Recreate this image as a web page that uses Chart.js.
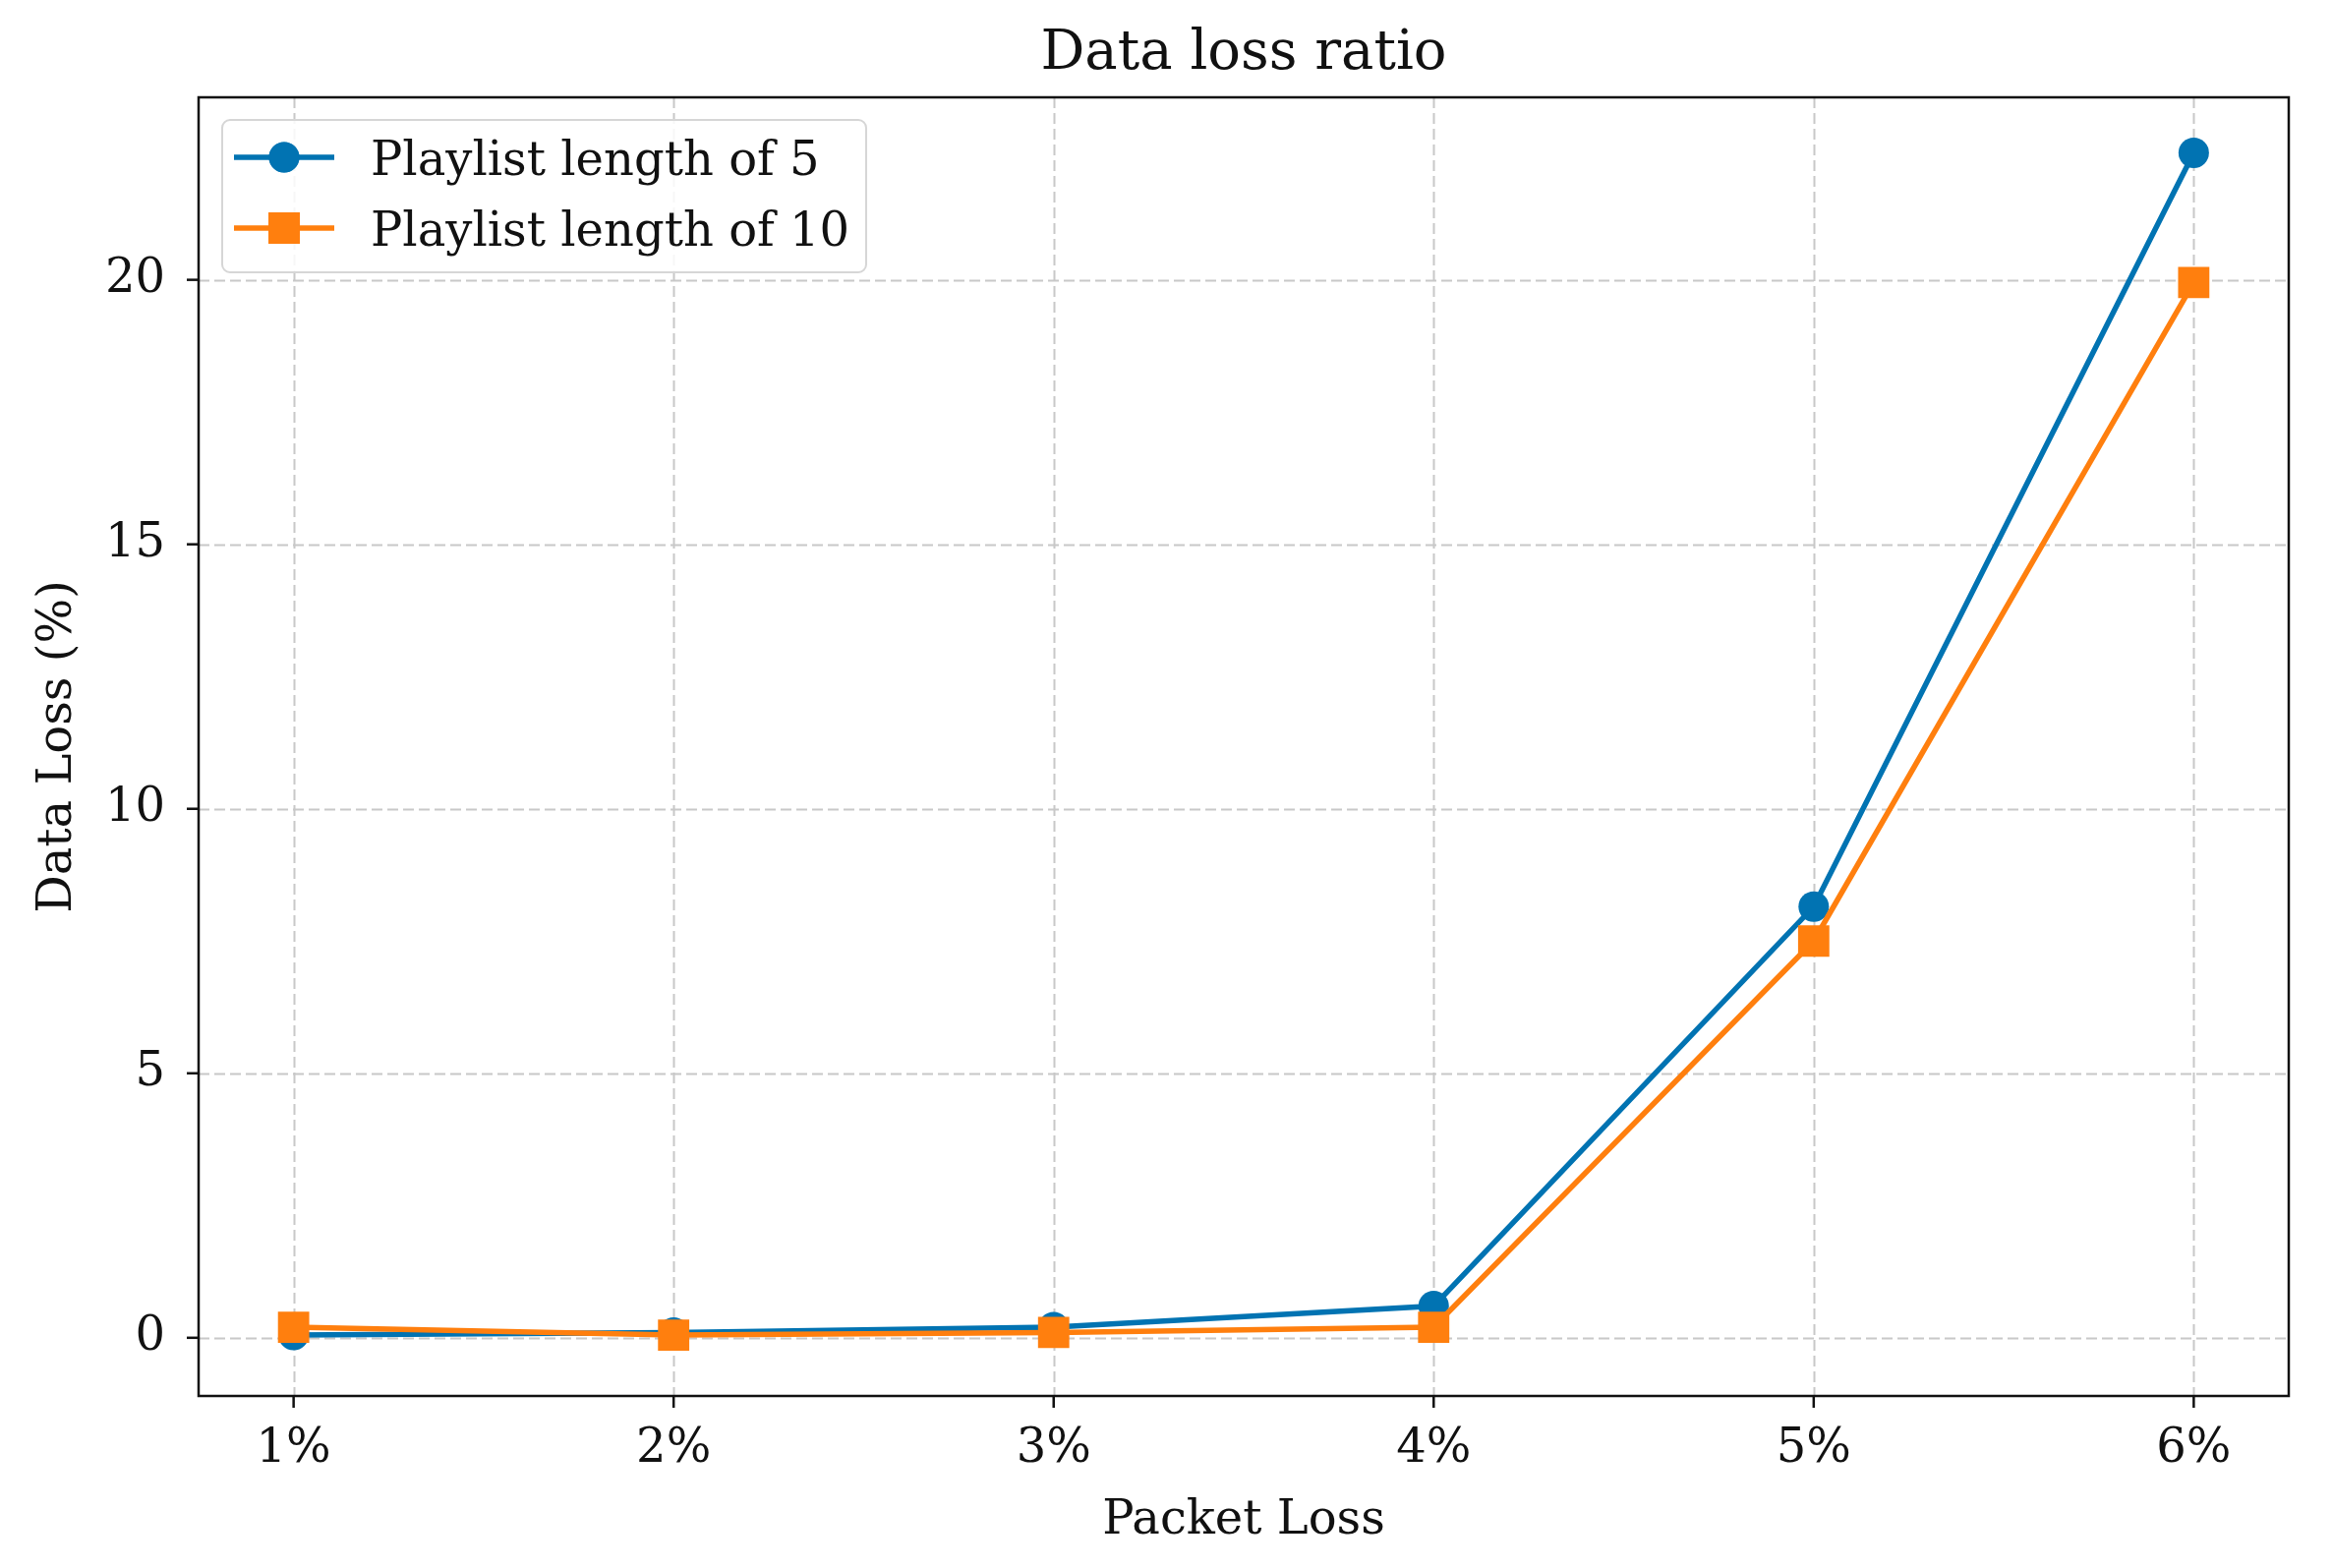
<!DOCTYPE html>
<html>
<head>
<meta charset="utf-8">
<script src="https://cdn.jsdelivr.net/npm/chart.js@4"></script>
<style>
  html, body { margin: 0; padding: 0; background: #fff; }
  #wrap { width: 2372px; height: 1595px; }
</style>
</head>
<body>
<div id="wrap"><canvas id="c" width="2372" height="1595"></canvas></div>
<script>
const categories = ['1%', '2%', '3%', '4%', '5%', '6%'];
const playlist5 = [0.05, 0.1, 0.2, 0.6, 8.15, 22.4];
const playlist10 = [0.2, 0.05, 0.1, 0.2, 7.5, 19.95];
const yTicks = [0, 5, 10, 15, 20];
const seriesNames = ['Playlist length of 5', 'Playlist length of 10'];
const titleText = 'Data loss ratio';
const xTitle = 'Packet Loss';
const yTitle = 'Data Loss (%)';

const FAMILY = "'DejaVu Serif', serif";
const BLUE = '#0173b2';
const ORANGE = '#ff7f0e';

function toPoints(arr) { return arr.map((v, i) => ({ x: i + 1, y: v })); }

const decor = {
  id: 'decor',
  beforeDatasetsDraw(chart) {
    const { ctx, chartArea: a, scales: { x, y } } = chart;
    ctx.save();
    ctx.strokeStyle = '#c8c8c8';
    ctx.lineWidth = 2;
    ctx.setLineDash([11, 5]);
    categories.forEach((c, i) => {
      const px = Math.round(x.getPixelForValue(i + 1)) + 0.5;
      ctx.beginPath(); ctx.moveTo(px, a.top); ctx.lineTo(px, a.bottom); ctx.stroke();
    });
    yTicks.forEach(v => {
      const py = Math.round(y.getPixelForValue(v)) + 0.5;
      ctx.beginPath(); ctx.moveTo(a.left, py); ctx.lineTo(a.right, py); ctx.stroke();
    });
    ctx.restore();
  },
  afterDatasetsDraw(chart) {
    const { ctx, chartArea: a, scales: { x, y } } = chart;
    ctx.save();
    // title, centred over the plot area
    ctx.fillStyle = '#111';
    ctx.font = `56px ${FAMILY}`;
    ctx.textAlign = 'center';
    ctx.textBaseline = 'alphabetic';
    ctx.fillText(titleText, (a.left + a.right) / 2, 70);
    // frame
    ctx.strokeStyle = '#111';
    ctx.lineWidth = 2.5;
    ctx.strokeRect(a.left, a.top, a.right - a.left, a.bottom - a.top);
    // tick marks
    ctx.lineWidth = 2.5;
    categories.forEach((c, i) => {
      const px = x.getPixelForValue(i + 1);
      ctx.beginPath(); ctx.moveTo(px, a.bottom); ctx.lineTo(px, a.bottom + 12); ctx.stroke();
    });
    yTicks.forEach(v => {
      const py = y.getPixelForValue(v);
      ctx.beginPath(); ctx.moveTo(a.left - 12, py); ctx.lineTo(a.left, py); ctx.stroke();
    });
    // legend
    const lx = 226, ly = 122, lw = 655, lh = 155;
    ctx.fillStyle = 'rgba(255,255,255,0.85)';
    ctx.strokeStyle = '#d6d6d6';
    ctx.lineWidth = 2;
    ctx.beginPath();
    ctx.roundRect(lx, ly, lw, lh, 8);
    ctx.fill(); ctx.stroke();
    const rows = [
      { name: seriesNames[0], color: BLUE, style: 'circle', r: 15.5, yy: 160, base: 178 },
      { name: seriesNames[1], color: ORANGE, style: 'rect', r: 22.5, yy: 232, base: 250 }
    ];
    rows.forEach(row => {
      ctx.strokeStyle = row.color;
      ctx.lineWidth = 5.5;
      ctx.setLineDash([]);
      ctx.beginPath(); ctx.moveTo(238, row.yy); ctx.lineTo(340, row.yy); ctx.stroke();
      ctx.fillStyle = row.color;
      Chart.helpers.drawPoint(ctx, { pointStyle: row.style, radius: row.r, borderWidth: 0, rotation: 0 }, 289, row.yy);
      ctx.fill();
      ctx.fillStyle = '#111';
      ctx.font = `48px ${FAMILY}`;
      ctx.textAlign = 'left';
      ctx.textBaseline = 'alphabetic';
      ctx.fillText(row.name, 377, row.base);
    });
    ctx.restore();
  }
};

new Chart(document.getElementById('c'), {
  type: 'line',
  data: {
    datasets: [
      {
        label: seriesNames[0],
        data: toPoints(playlist5),
        borderColor: BLUE,
        backgroundColor: BLUE,
        borderWidth: 5.5,
        pointStyle: 'circle',
        pointRadius: 15.5,
        pointBorderWidth: 0,
        pointHoverRadius: 15.5,
        order: 1
      },
      {
        label: seriesNames[1],
        data: toPoints(playlist10),
        borderColor: ORANGE,
        backgroundColor: ORANGE,
        borderWidth: 5.5,
        pointStyle: 'rect',
        pointRadius: 22.5,
        pointBorderWidth: 0,
        pointHoverRadius: 22.5,
        order: 0
      }
    ]
  },
  options: {
    responsive: false,
    devicePixelRatio: 1,
    animation: false,
    events: [],
    layout: { padding: { top: 99, right: 44, bottom: 0, left: 0 } },
    plugins: {
      legend: { display: false },
      tooltip: { enabled: false },
      title: { display: false }
    },
    scales: {
      x: {
        type: 'linear',
        min: 0.75,
        max: 6.25,
        grid: { display: false },
        border: { display: false },
        afterBuildTicks(axis) { axis.ticks = categories.map((c, i) => ({ value: i + 1 })); },
        afterFit(axis) { axis.height = 175; },
        ticks: {
          color: '#111',
          padding: 18,
          maxRotation: 0,
          autoSkip: false,
          font: { family: FAMILY, size: 48 },
          callback: (v) => categories[v - 1]
        },
        title: {
          display: true,
          text: xTitle,
          color: '#111',
          font: { family: FAMILY, size: 48, lineHeight: 1.0 },
          padding: { top: 0, bottom: 23 }
        }
      },
      y: {
        type: 'linear',
        min: -1.1,
        max: 23.45,
        grid: { display: false },
        border: { display: false },
        afterBuildTicks(axis) { axis.ticks = yTicks.map(v => ({ value: v })); },
        afterFit(axis) { axis.width = 202; },
        ticks: {
          color: '#111',
          padding: 26,
          font: { family: FAMILY, size: 48 },
          callback: (v) => String(v)
        },
        title: {
          display: true,
          text: yTitle,
          color: '#111',
          font: { family: FAMILY, size: 48, lineHeight: 1.0 },
          padding: { top: 36, bottom: 0 }
        }
      }
    }
  },
  plugins: [decor]
});
</script>
</body>
</html>
